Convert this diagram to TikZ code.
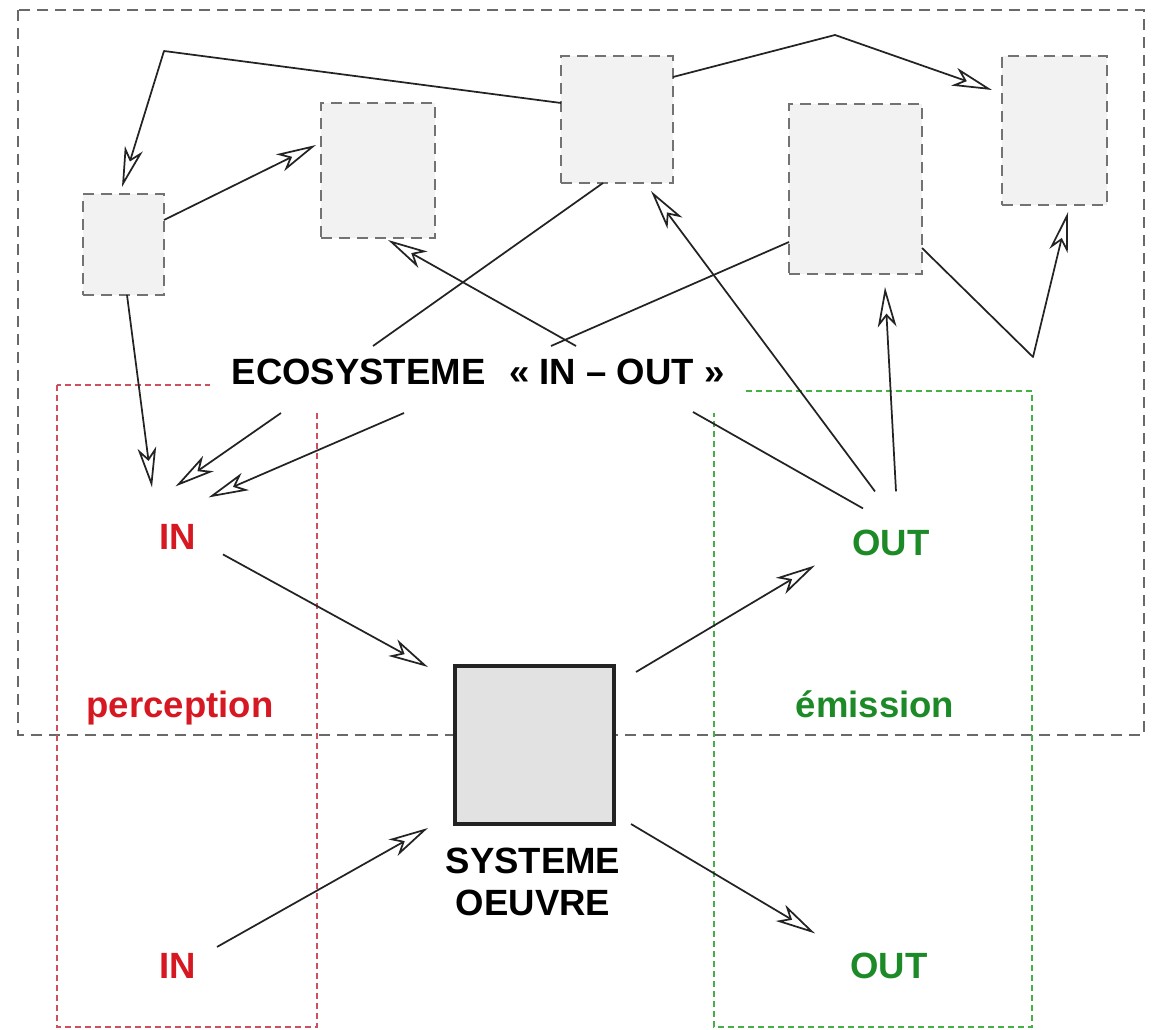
\documentclass[tikz,border=0pt]{standalone}
\usepackage{fontspec}
\setmainfont{Liberation Sans}
\usetikzlibrary{arrows.meta,calc}
\definecolor{txtred}{RGB}{214,24,34}
\definecolor{txtgreen}{RGB}{28,138,38}
\definecolor{boxred}{RGB}{205,80,95}
\definecolor{boxgreen}{RGB}{70,175,70}
\definecolor{framegray}{RGB}{105,105,105}
\definecolor{boxgray}{RGB}{115,115,115}
\definecolor{boxfill}{RGB}{242,242,242}
\definecolor{sysfill}{RGB}{226,226,226}
\definecolor{linecol}{RGB}{35,35,35}
\tikzset{
  lbl/.style={font=\fontsize{27.4pt}{31.5pt}\selectfont\bfseries, inner sep=0pt, outer sep=0pt, anchor=base},
  smallbox/.style={draw=boxgray, fill=boxfill, line width=1.6pt, dash pattern=on 8pt off 5.5pt, inner sep=0pt, outer sep=0pt},
  sysbox/.style={draw=linecol, fill=sysfill, line width=2.4pt, inner sep=0pt, outer sep=0pt},
  framebox/.style={draw=framegray, line width=1.5pt, dash pattern=on 8pt off 5.5pt},
  redzone/.style={draw=boxred, line width=0.9pt, dash pattern=on 4.5pt off 3pt},
  greenzone/.style={draw=boxgreen, line width=0.9pt, dash pattern=on 4.5pt off 3pt},
  conn/.style={draw=linecol, line width=1.3pt, line join=round},
  arr/.style={conn, -{Stealth[open, length=30pt, width=14pt, inset=8pt]}},
}
\begin{document}
\begin{tikzpicture}[x=0.75pt, y=-0.75pt]
\useasboundingbox (0,0) rectangle (1153,1030);
\fill[white] (0,0) rectangle (1153,1030);

% zones
\draw[framebox] (18,10) rectangle (1144,735);
\draw[redzone] (57,385) rectangle (317,1027);
\draw[greenzone] (714,391) rectangle (1032,1027);

% ecosystem label (white background hides parts of the zones)
\node[lbl, fill=white, minimum width=402pt, text height=29.25pt, text depth=21pt] (eco) at (478,385)
  {ECOSYSTEME\hspace{0.65em}« IN – OUT »};

% boxes
\node[smallbox, minimum width=60.75pt, minimum height=75.75pt] (b1) at (123.5,244.5) {};
\node[smallbox, minimum width=85.5pt, minimum height=101.25pt] (b2) at (378,170.5) {};
\node[smallbox, minimum width=84pt, minimum height=95.25pt] (b3) at (617,119.5) {};
\node[smallbox, minimum width=99.75pt, minimum height=127.5pt] (b4) at (855.5,189) {};
\node[smallbox, minimum width=78.75pt, minimum height=111.75pt] (b5) at (1054.5,130.5) {};
\node[sysbox, minimum width=119.25pt, minimum height=118.5pt] (sys) at (534.5,745) {};

% labels
\node[lbl, text=txtred] (in1) at (177.5,549) {IN};
\node[lbl, text=txtgreen] (out1) at (891,555) {OUT};
\node[lbl, text=txtred] (in2) at (177.5,978) {IN};
\node[lbl, text=txtgreen] (out2) at (889,978) {OUT};
\node[lbl, text=txtred] (perc) at (180,717) {perception};
\node[lbl, text=txtgreen] (emis) at (875,717) {émission};
\node[lbl, align=center, anchor=north] (syslbl) at (533,848) {SYSTEME\\OEUVRE};

% bend points
\coordinate (k1) at (164,51);
\coordinate (k2) at (835,35);
\coordinate (k3) at (1033,357);

% connectors
\draw[arr] ($(b3.north west)+(0,47)$) -- (k1) -- ($(b1.north)+(-1.5,-7)$);
\draw[arr] ($(b1.north east)+(0,26)$) -- ($(b2.north west)+(-5,42)$);
\draw[arr] ($(b3.north east)+(0,21)$) -- (k2) -- ($(b5.north west)+(-10,34)$);
\draw[arr] ($(b4.north east)+(0,144)$) -- (k3) -- ($(b5.south west)+(66,7)$);
\draw[conn] ($(b4.north west)+(0,138)$) -- ($(eco.north west)+(341,0)$);
\draw[arr] ($(eco.north west)+(366,0)$) -- ($(b2.south west)+(67,2)$);
\draw[conn] ($(b3.south west)+(42,0)$) -- ($(eco.north west)+(163,0)$);
\draw[arr] ($(eco.south west)+(71,0)$) -- ($(in1)+(-2,-50)$);
\draw[arr] ($(eco.south west)+(194,0)$) -- ($(in1)+(31,-39)$);
\draw[arr] ($(b1.south)+(3.5,0)$) -- ($(in1)+(-25.5,-49)$);
\draw[arr] ($(in1)+(45.5,18)$) -- ($(sys.north west)+(-27,1)$);
\draw[arr] ($(sys.north east)+(22,6)$) -- ($(out1)+(-76,23)$);
\draw[arr] ($(out1)+(-16,-51)$) -- ($(b3.south east)+(-22,8)$);
\draw[arr] ($(out1)+(5,-51)$) -- ($(b4.south)+(29.5,13)$);
\draw[conn] ($(eco.south west)+(483,-1)$) -- ($(out1)+(-28,-34)$);
\draw[arr] ($(sys.south east)+(17,0)$) -- ($(out2)+(-74,-32)$);
\draw[arr] ($(in2)+(39.5,-18.5)$) -- ($(sys.south west)+(-27,4)$);
\end{tikzpicture}
\end{document}
